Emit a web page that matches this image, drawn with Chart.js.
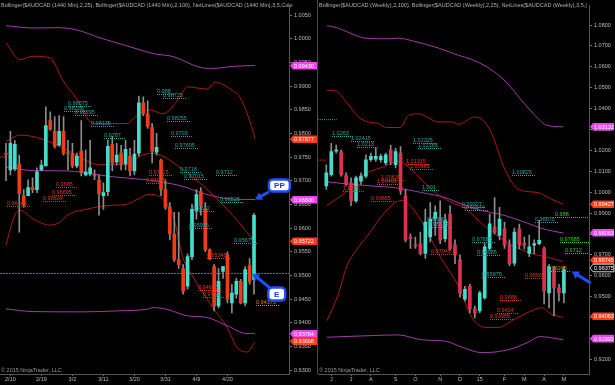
<!DOCTYPE html>
<html><head><meta charset="utf-8">
<script src="https://cdn.jsdelivr.net/npm/chart.js@4.4.1/dist/chart.umd.min.js"></script>
<style>
html,body{margin:0;padding:0;background:#000;width:615px;height:385px;overflow:hidden}
#a{position:absolute;left:0;top:0}
#b{position:absolute;left:318px;top:0}
#sep{position:absolute;left:317px;top:0;width:1px;height:374px;background:#4a4a4a}
</style></head><body>
<canvas id="a" width="318" height="385"></canvas>
<canvas id="b" width="297" height="385"></canvas>
<div id="sep"></div>
<script>
// ---------- DAILY (left) ----------
const dOpen  = [0.9758,0.97229,0.9725,0.97354,0.96687,0.96687,0.96854,0.96812,0.97229,0.97312,0.98271,0.98042,0.97750,0.98042,0.9758,0.97562,0.97312,0.97625,0.97125,0.97146,0.97125,0.97021,0.96687,0.96771,0.97771,0.97396,0.97583,0.97354,0.97521,0.97208,0.97583,0.98646,0.98416,0.98125,0.97604,0.97437,0.96812,0.96437,0.95875,0.95333,0.95146,0.94771,0.95396,0.96375,0.96771,0.96396,0.95541,0.95187,0.94354,0.95083,0.95437,0.94416,0.94604,0.94875,0.94416,0.95208,0.94916];
const dHigh  = [0.9779,0.98042,0.9785,0.97541,0.96812,0.97021,0.97062,0.97271,0.97437,0.98562,0.98458,0.98354,0.98375,0.98354,0.97854,0.97791,0.97583,0.98271,0.97646,0.97854,0.97229,0.97125,0.96958,0.97854,0.97937,0.97791,0.97750,0.97854,0.97687,0.97854,0.98791,0.98771,0.98687,0.98208,0.98000,0.97458,0.97021,0.96541,0.96333,0.96333,0.95229,0.95458,0.96500,0.96812,0.96854,0.96541,0.95562,0.95229,0.95146,0.95187,0.95500,0.94812,0.94937,0.94916,0.95187,0.95354,0.96312];
const dLow   = [0.9700,0.97125,0.9721,0.95916,0.96437,0.96687,0.96750,0.96750,0.97208,0.97312,0.98062,0.97687,0.97729,0.97541,0.97229,0.97271,0.97271,0.97104,0.97104,0.97104,0.97021,0.96271,0.96396,0.96687,0.97208,0.97333,0.97229,0.97229,0.97104,0.97125,0.97521,0.98375,0.98104,0.97375,0.97541,0.96687,0.96396,0.95750,0.95291,0.95146,0.94604,0.94708,0.95333,0.96187,0.96271,0.95500,0.95333,0.94250,0.94312,0.94937,0.94416,0.94208,0.94521,0.94396,0.94354,0.94812,0.94604];
const dClose = [0.9756,0.97791,0.9777,0.96729,0.96479,0.96854,0.96812,0.97187,0.97333,0.98166,0.98083,0.97729,0.98042,0.97583,0.9757,0.97312,0.97521,0.97187,0.97187,0.97271,0.97104,0.96729,0.96750,0.97729,0.97375,0.97541,0.97354,0.97666,0.97208,0.97562,0.98646,0.98416,0.98146,0.97625,0.97708,0.96812,0.96437,0.95875,0.95333,0.95229,0.94666,0.95396,0.96396,0.96708,0.96479,0.95541,0.95354,0.94354,0.94875,0.95187,0.94500,0.94625,0.94875,0.94416,0.95125,0.94875,0.96271];
const dTickIdx = [1,8,15,22,29,36,43,50];
const dTickLbl = ['2/10','2/19','3/2','3/11','3/20','3/31','4/9','4/20'];
const dYTicks = [0.930,0.935,0.940,0.945,0.950,0.955,0.960,0.965,0.970,0.975,0.980,0.985,0.990,0.995,1.000,1.005];
// Bollinger (2,100) magenta
const dU100X = [0,6.1,11.7,16,21.2,28.7,33.2,37.7,43.8,46.7,51.2,56.2];
const dU100  = [1.00277,1.00229,1.00235,1.00187,1.00021,0.99812,0.99687,0.99625,0.99396,0.99375,0.99416,0.99437];
const dM100X = [0,6.1,13.8,20.5,24.2,31.8,36.3,40.9,43.8,48.3,51.2,56.2];
const dM100  = [0.97291,0.97214,0.97208,0.97131,0.97083,0.97021,0.96958,0.96854,0.96750,0.96646,0.96610,0.96604];
const dL100X = [0,6.1,17.4,25.1,31.8,33.2,36.3,40.9,45.4,49.9,54.4,56.2];
const dL100  = [0.94291,0.94235,0.94229,0.94250,0.94285,0.94318,0.94285,0.94146,0.94110,0.93937,0.93771,0.93777];
// Bollinger (2,25) dark red
const dU25X = [0,3.2,6.1,9.9,12.9,16,19,21,27.3,29.6,32.5,35.4,39.3,40.9,45.4,47.2,51.2,52.8,55.8,56.2];
const dU25  = [0.99916,0.99562,0.99631,0.99598,0.99110,0.98729,0.98250,0.98208,0.98208,0.98381,0.98500,0.98416,0.98771,0.98985,0.98937,0.99083,0.98902,0.98771,0.98042,0.97896];
const dM25X = [0,3.2,7.7,13.8,18.3,21.2,27.3,30.2,33.2,35.4,40.9,45.4,51.2,56.2];
const dM25  = [0.97833,0.97964,0.97896,0.97652,0.97410,0.97339,0.97339,0.97520,0.97583,0.97520,0.97166,0.96818,0.96270,0.95708];
const dL25X = [0,2,3.2,6.1,9.9,12.2,13.8,18.3,23.5,27.3,29.6,32.5,35.4,37.7,40,41.5,46.7,49.9,52.1,54.4,56.2];
const dL25  = [0.95646,0.96271,0.96375,0.96193,0.96062,0.96125,0.96271,0.96402,0.96479,0.96506,0.96604,0.96714,0.96610,0.96271,0.95360,0.95083,0.94318,0.93902,0.93485,0.93381,0.93589];
// NetLines
const dNetTxt = ['0.98575','0.98335','0.98295','0.98135','0.988','0.98725','0.98255','0.9787','0.9793','0.97695','0.9718','0.97015','0.9712','0.96525','0.9632','0.95975','0.95675','0.96448','0.9685','0.96695','0.96609','0.97115','0.96965','0.95345','0.94665','0.9455','0.94375'];
const dNetVal = [0.98583,0.98479,0.98396,0.98166,0.98833,0.98750,0.98270,0.97896,0.97937,0.97687,0.97187,0.97041,0.97125,0.96541,0.96354,0.96000,0.95687,0.96464,0.96860,0.96708,0.96562,0.97125,0.96958,0.95375,0.94687,0.94541,0.94375];
const dNetIdx = [14.0,13.1,15.6,19.2,34.1,35.4,36.3,22.1,37.2,38.1,39.3,40.2,47.4,48.3,42.2,41.3,51.5,0.2,11.3,10.4,8.4,32.3,31.6,45.4,43.3,44.5,56.4];
const dNetCol = ['c','c','c','c','c','c','c','c','c','c','c','c','c','c','c','c','c','r','r','r','r','r','r','r','r','r','o'];
const dELevel = 0.95041;
const dRedEdge = 0.97500;
const dTagVal = [0.99430,0.97877,0.96600,0.95722,0.93764,0.93608];
const dTagCol = ['m','r','m','r','m','r'];

// ---------- WEEKLY (right) ----------
const wOpen  = [1.00296,1.00844,1.01962,1.01948,1.00797,1.00452,0.99589,1.00532,1.00768,1.01552,1.01584,1.01552,1.01396,1.02023,1.01316,1.01867,0.99825,0.97858,0.97434,0.97542,0.97071,0.97858,0.98720,0.98720,0.97778,0.98957,0.97481,0.96773,0.94887,0.95499,0.94415,0.94320,0.94948,0.97306,0.98330,0.97938,0.98250,0.97481,0.96599,0.98250,0.97542,0.97071,0.97466,0.97542,0.97306,0.95184,0.96287,0.95419,0.95184];
const wHigh  = [1.01316,1.02339,1.02259,1.02023,1.00924,1.00688,1.00768,1.00924,1.01788,1.01867,1.02103,1.01820,1.01867,1.02259,1.02103,1.02183,1.00136,0.98013,0.97858,0.98094,0.99193,0.99509,0.99353,0.99589,0.98957,0.99353,0.97717,0.97008,0.95499,0.95594,0.94556,0.95264,0.97542,0.98957,0.99745,0.99273,0.98566,0.97717,0.98283,0.98471,0.97858,0.97952,0.97717,0.98660,0.97386,0.96537,0.96443,0.95594,0.96443];
const wLow   = [1.00136,1.00768,1.01867,1.00768,1.00296,0.99353,0.99509,1.00372,1.00688,1.01476,1.01476,1.01443,1.01316,1.01316,1.01160,0.99900,0.97622,0.97306,0.97306,0.96994,0.96835,0.97622,0.97938,0.97542,0.97622,0.97230,0.96584,0.94981,0.94792,0.94226,0.93990,0.94226,0.94886,0.97230,0.97999,0.97717,0.97306,0.96490,0.96490,0.97292,0.97292,0.96915,0.97057,0.97481,0.94650,0.94462,0.94085,0.94792,0.94698];
const wClose = [1.00924,1.01948,1.01972,1.00844,1.00372,0.99589,1.00688,1.00768,1.01552,1.01712,1.01712,1.01712,1.01788,1.01476,1.01948,1.00061,0.97702,0.97778,0.97433,0.97071,0.98566,0.98720,0.99037,0.97702,0.98645,0.97306,0.96995,0.95169,0.95358,0.94415,0.94226,0.95184,0.97386,0.98485,0.98094,0.98720,0.97466,0.96585,0.98094,0.97466,0.97466,0.97386,0.97542,0.97702,0.95264,0.96443,0.95419,0.95184,0.96287];
const wTickIdx = [1,5,9,14,18,23,27,31,36,40,44,48];
const wTickLbl = ['J','J','A','S','O','N','D','15','F','M','A','M'];
const wYTicks = [0.92,0.93,0.94,0.95,0.96,0.97,0.98,0.99,1.00,1.01,1.02,1.03,1.04,1.05,1.06,1.07,1.08];
const wU100X = [0.1,2.1,4.1,6.5,7.8,12.5,14.5,17.9,22.6,26.7,29.4,32.7,36.1,39.5,42.8,44.5,47.9];
const wU100  = [1.07967,1.07872,1.07684,1.07448,1.07372,1.07339,1.07372,1.07212,1.06901,1.06551,1.06349,1.05957,1.05325,1.04382,1.03518,1.03202,1.03127];
const wM100X = [0.1,5.1,9.2,13.9,19.3,24,27.4,30.7,36.1,40.1,44.2,47.9];
const wM100  = [1.00500,1.00372,1.00297,1.00217,0.99981,0.99745,0.99429,0.99165,0.98882,0.98566,0.98221,0.98047];
const wL100X = [0.1,9.2,14.5,19.3,24,27.4,31.4,34.1,37.5,40.8,43.2,45.5,47.9];
const wL100  = [0.93061,0.93141,0.93174,0.92938,0.92872,0.92589,0.92325,0.92353,0.92513,0.92825,0.93094,0.93032,0.92938];
const wU25X = [0.1,1.8,4.1,6.5,8.5,10.5,12.2,14.9,16.6,18.6,22.6,25.3,26.7,30,31.7,33.4,36.1,38.8,42.8,45.5,47.9];
const wU25  = [1.04886,1.04853,1.04306,1.03599,1.03363,1.03283,1.03094,1.03094,1.03674,1.03754,1.03363,1.03363,1.03250,1.03599,1.03438,1.02811,1.01080,1.00136,0.99981,0.99665,0.99429];
const wM25X = [0.1,3.8,7.1,11.8,14.5,17.2,21.2,25.3,27.4,32.7,37.5,41.5,45.5,47.9];
const wM25  = [0.99368,0.99981,1.00768,1.01240,1.01476,1.01080,1.00136,0.99509,0.99320,0.98250,0.97466,0.97071,0.96835,0.96679];
const wL25X = [0.1,2.4,4.1,5.8,8.4,11.8,15.2,17.3,19.9,23,26.7,29.4,32.1,34.7,38.1,42.2,43.5,45.5,47.9];
const wL25  = [0.93849,0.95108,0.96443,0.97151,0.97938,0.99037,0.99603,0.99273,0.98330,0.96915,0.95500,0.94005,0.93532,0.93532,0.93930,0.94400,0.94476,0.94165,0.94004];
const wNetTxt = ['1.0263','1.02415','1.0213','1.02325','1.02165','1.00825','1.001','0.99327','0.99144','0.98575','0.97685','0.96985','0.95975','0.98585','0.98335','1.01315','1.00985','1.00635','1.00495','1.0035','0.99655','0.97045','0.95905','0.9488','0.9424','0.93955','0.988','0.97685','0.9712','0.96245'];
const wNetVal = [1.02669,1.02434,1.02165,1.02353,1.02118,1.00830,1.00122,0.99287,0.99132,0.98580,0.97622,0.96976,0.95938,0.98566,0.98330,1.01349,1.01113,1.00594,1.00405,1.00075,0.99556,0.97042,0.95910,0.94853,0.94226,0.93910,0.98816,0.97636,0.97089,0.96207];
const wNetIdx = [1.15,5.0,6.2,17.5,18.5,37.5,19.3,27.4,28.0,42.2,29.4,30.4,31.4,20.3,20.5,16.1,16.9,11.0,10.2,3.4,9.0,21.1,40.1,35.1,34.5,33.0,46.2,47.2,48.2,44.6];
const wNetCol = ['c','c','c','c','c','c','c','c','c','c','c','c','c','c','c','r','r','r','r','r','r','r','r','r','r','r','g','g','g','o'];
const wCyanEdge = 1.03471, wRedEdge = 1.01537;
const wTagVal = [1.03132,0.99427,0.98063,0.96745,0.96375,0.94063,0.92993];
const wTagCol = ['m','r','m','r','k','r','m'];

// ---------- drawing helpers ----------
const FONT = '"Liberation Sans", Arial, Helvetica, sans-serif';
const TXT = {c:'#23a7a2', r:'#e2381f', g:'#36cc22', o:'#d88a0c'};
const TAG = {m:['#ee46ee','#ffffff'], r:['#ff3b1f','#ffffff'], k:['#000000','#ffffff']};
const MAG = '#a23aa8', DRED = '#b01818';

function pts(xs, ys){ return xs.map((x,i)=>({x, y:ys[i]})); }
function band(xs, ys, col){
  return {type:'line', data:pts(xs,ys), borderColor:col, borderWidth:1, pointRadius:0,
          tension:0.3, cubicInterpolationMode:'monotone', order:5};
}
function hline(x0, x1, v, col, dash){
  return {type:'line', data:[{x:x0,y:v},{x:x1,y:v}], borderColor:col, borderWidth:1,
          borderDash:dash, pointRadius:0, order:4};
}
function candles(O,H,L,C,up,dn){
  const idx = O.map((_,i)=>i);
  return [
    {type:'bar', data:idx.map(i=>({x:i,y:[O[i],C[i]]})), backgroundColor:idx.map(i=>C[i]>=O[i]?up:dn),
     barThickness:3, grouped:false, minBarLength:1, borderWidth:0, order:0},
    {type:'bar', data:idx.map(i=>({x:i,y:[L[i],H[i]]})), backgroundColor:'#8c8c8c',
     barThickness:1, grouped:false, borderWidth:0, order:1}
  ];
}
function arrow(ctx,x0,y0,x1,y1){
  const a = Math.atan2(y1-y0,x1-x0), hl = 7, hw = 4.2;
  ctx.strokeStyle = ctx.fillStyle = '#1f4dff';
  ctx.lineWidth = 3; ctx.lineCap = 'round';
  ctx.beginPath(); ctx.moveTo(x0,y0); ctx.lineTo(x1-hl*0.8*Math.cos(a), y1-hl*0.8*Math.sin(a)); ctx.stroke();
  const bx = x1-hl*Math.cos(a), by = y1-hl*Math.sin(a);
  ctx.beginPath(); ctx.moveTo(x1,y1);
  ctx.lineTo(bx+hw*Math.sin(a), by-hw*Math.cos(a));
  ctx.lineTo(bx-hw*Math.sin(a), by+hw*Math.cos(a));
  ctx.closePath(); ctx.fill();
}
function badge(ctx,x,y,w,h,t){
  ctx.beginPath(); ctx.roundRect(x,y,w,h,4);
  ctx.fillStyle='#ffffff'; ctx.fill();
  ctx.strokeStyle='#1f4dff'; ctx.lineWidth=2.5; ctx.stroke();
  ctx.fillStyle='#1a3ad8'; ctx.font='bold 8px '+FONT; ctx.textAlign='center'; ctx.textBaseline='middle';
  ctx.fillText(t, x+w/2, y+h/2+0.5); ctx.textAlign='left';
}

const overlay = {
  id:'overlay',
  afterDatasetsDraw(chart, args, o){
    const {ctx, chartArea:ca, scales:{x,y}} = chart;
    ctx.save();
    ctx.font = '5.5px '+FONT; ctx.textBaseline='alphabetic';
    o.txt.forEach((t,k)=>{
      const px = Math.round(x.getPixelForValue(o.idx[k])), py = Math.round(y.getPixelForValue(o.val[k]))+0.5;
      const col = TXT[o.col[k]];
      const w = ctx.measureText(t).width;
      const end = o.col[k]==='g' ? ca.right : px + w + 4;
      ctx.strokeStyle = col; ctx.lineWidth = 1; ctx.setLineDash([1,1]);
      ctx.beginPath(); ctx.moveTo(px,py); ctx.lineTo(end,py); ctx.stroke();
      ctx.fillStyle = col; ctx.fillText(t, px, py-1.5);
    });
    ctx.setLineDash([]);
    (o.callouts||[]).forEach(c=>{
      const tx = x.getPixelForValue(c.i), ty = y.getPixelForValue(c.v);
      arrow(ctx, tx+c.tail[0], ty+c.tail[1], tx, ty);
      if (c.text) badge(ctx, tx+c.box[0], ty+c.box[1], c.box[2], c.box[3], c.text);
    });
    ctx.restore();
  },
  afterDraw(chart, args, o){
    const {ctx, chartArea:ca, scales:{y}} = chart;
    ctx.save();
    ctx.font = '5.5px '+FONT; ctx.textBaseline='middle';
    const x0 = ca.right+1, x1 = chart.width-1;
    o.tags.forEach((v,k)=>{
      const py = y.getPixelForValue(v), [bg,fg] = TAG[o.tagCol[k]];
      ctx.beginPath(); ctx.moveTo(x0,py); ctx.lineTo(x0+3,py-3.8); ctx.lineTo(x1,py-3.8);
      ctx.lineTo(x1,py+3.8); ctx.lineTo(x0+3,py+3.8); ctx.closePath();
      ctx.fillStyle = bg; ctx.fill();
      if (o.tagCol[k]==='k'){ ctx.strokeStyle='#d0d0d0'; ctx.lineWidth=1; ctx.stroke(); }
      ctx.fillStyle = fg; ctx.fillText(v.toFixed(5), x0+4, py+0.5);
    });
    ctx.fillStyle = '#b0b0b0'; ctx.textBaseline='alphabetic';
    ctx.fillText(o.title, ca.left+1, 7);
    ctx.fillStyle = '#9a9a9a';
    ctx.fillText('\u00a9 2015 NinjaTrader, LLC', ca.left+1, 372);
    ctx.restore();
  }
};

function makeChart(id, c){
  return new Chart(document.getElementById(id), {
    type:'bar',
    data:{datasets:c.datasets},
    options:{
      responsive:false, animation:false, events:[],
      layout:{padding:0},
      plugins:{legend:{display:false}, tooltip:{enabled:false}, overlay:c.overlay},
      scales:{
        x:{type:'linear', min:c.xmin, max:c.xmax, offset:false,
           grid:{drawOnChartArea:false, tickLength:2, color:'#666', offset:false},
           border:{display:true, color:'#555'},
           afterBuildTicks:s=>{ s.ticks = c.tickIdx.map(v=>({value:v})); },
           afterFit:s=>{ s.height = 11; },
           ticks:{autoSkip:false, maxRotation:0, minRotation:0, padding:0, color:'#bdbdbd',
                  font:{size:5.5, family:FONT},
                  callback:v=>{ const k = c.tickIdx.indexOf(v); return k>=0 ? c.tickLbl[k] : ''; }}},
        y:{type:'linear', position:'right', min:c.ymin, max:c.ymax,
           grid:{drawOnChartArea:false, tickLength:3, color:'#777'},
           border:{display:true, color:'#555'},
           afterBuildTicks:s=>{ s.ticks = c.yTicks.map(v=>({value:v})); },
           afterFit:s=>{ s.width = c.yw; },
           ticks:{padding:2, color:'#bdbdbd', font:{size:5.5, family:FONT}, callback:v=>(+v).toFixed(4)}}
      }
    },
    plugins:[overlay]
  });
}

// left daily chart
const dXmin = -1.35, dXmax = 63.9;
makeChart('a', {
  xmin:dXmin, xmax:dXmax, ymin:0.92916, ymax:1.00708, yw:29,
  tickIdx:dTickIdx, tickLbl:dTickLbl, yTicks:dYTicks,
  datasets:[
    ...candles(dOpen,dHigh,dLow,dClose,'#44dccb','#f03a18'),
    band(dU100X,dU100,MAG), band(dM100X,dM100,MAG), band(dL100X,dL100,MAG),
    band(dU25X,dU25,DRED), band(dM25X,dM25,DRED), band(dL25X,dL25,DRED),
    hline(dXmin,dXmax,dELevel,'#5f8a1e',[2,1]),
    hline(dXmin,1,dRedEdge,'#e2381f',[1,1])
  ],
  overlay:{txt:dNetTxt, val:dNetVal, idx:dNetIdx, col:dNetCol, tags:dTagVal, tagCol:dTagCol,
    title:'Bollinger($AUDCAD (1440 Min),2,25), Bollinger($AUDCAD (1440 Min),2,100), NetLines($AUDCAD (1440 Min),3,5,Colo',
    callouts:[
      {i:56.2, v:dM100[dM100.length-1], tail:[13,-7], box:[14,-20,21,12], text:'PP'},
      {i:55.6, v:dELevel, tail:[17,14], box:[16,14,17,13], text:'E'}
    ]}
});

// right weekly chart
const wXmin = -1.68, wXmax = 53.07;
makeChart('b', {
  xmin:wXmin, xmax:wXmax, ymin:0.91302, ymax:1.08943, yw:26,
  tickIdx:wTickIdx, tickLbl:wTickLbl, yTicks:wYTicks,
  datasets:[
    ...candles(wOpen,wHigh,wLow,wClose,'#44dccb','#de3150'),
    band(wU100X,wU100,MAG), band(wM100X,wM100,MAG), band(wL100X,wL100,MAG),
    band(wU25X,wU25,DRED), band(wM25X,wM25,DRED), band(wL25X,wL25,DRED),
    hline(wXmin,2.1,wCyanEdge,'#23a7a2',[1,1]),
    hline(wXmin,0,wRedEdge,'#e2381f',[1,1])
  ],
  overlay:{txt:wNetTxt, val:wNetVal, idx:wNetIdx, col:wNetCol, tags:wTagVal, tagCol:wTagCol,
    title:'Bollinger($AUDCAD (Weekly),2,100), Bollinger($AUDCAD (Weekly),2,25), NetLines($AUDCAD (Weekly),3,5,(',
    callouts:[ {i:49.6, v:0.96207, tail:[18,11]} ]}
});
</script>
</body></html>
